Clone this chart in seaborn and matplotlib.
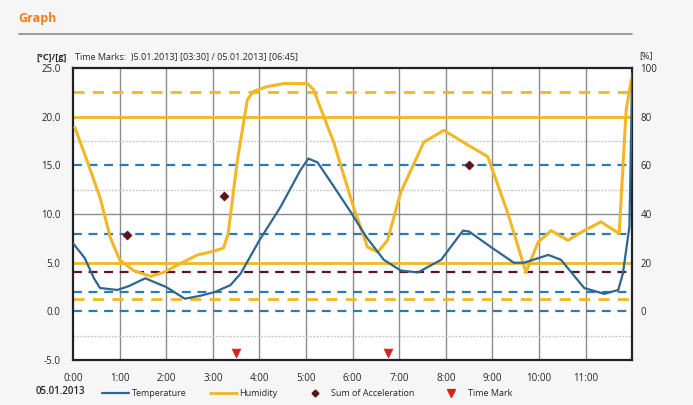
import seaborn as sns
import matplotlib.pyplot as plt
import matplotlib
import pandas as pd
from matplotlib.lines import Line2D

sns.set_style("white")
matplotlib.rcParams["font.family"] = ["Open Sans", "DejaVu Sans"]
matplotlib.rcParams["font.size"] = 7

# temperature [°C] over hours since 0:00
temp_hours = [0.0, 0.25, 0.45, 0.58, 0.95, 1.2, 1.55, 2.0, 2.4, 2.73, 3.05, 3.38, 3.6, 4.0, 4.45,
              4.88, 5.05, 5.25, 5.6, 5.96, 6.3, 6.67, 7.03, 7.4, 7.9, 8.37, 8.5, 8.97, 9.46, 9.68,
              10.2, 10.47, 10.97, 11.4, 11.7, 11.8, 11.94, 12.0]
temp_values = [7.0, 5.5, 3.4, 2.4, 2.2, 2.6, 3.4, 2.5, 1.3, 1.6, 2.0, 2.7, 3.9, 7.3, 10.7,
               14.5, 15.7, 15.3, 12.8, 10.2, 7.6, 5.3, 4.2, 4.0, 5.3, 8.3, 8.2, 6.6, 5.0, 5.0,
               5.8, 5.3, 2.4, 1.8, 2.2, 3.9, 8.7, 24.5]

# humidity [%]
hum_hours = [0.04, 0.3, 0.58, 0.8, 1.0, 1.3, 1.66, 1.94, 2.3, 2.67, 2.95, 3.23, 3.33, 3.53, 3.74,
             3.87, 4.17, 4.52, 5.03, 5.16, 5.6, 6.02, 6.32, 6.54, 6.75, 7.03, 7.53, 7.96, 8.47,
             8.9, 9.33, 9.72, 9.98, 10.26, 10.62, 10.97, 11.33, 11.72, 11.87, 11.98]
hum_values = [75.6, 62.0, 46.8, 30.4, 21.2, 16.8, 14.4, 16.0, 19.6, 23.2, 24.4, 26.0, 32.0, 62.4, 86.8,
              90.4, 92.4, 93.6, 93.6, 91.2, 69.2, 42.8, 26.4, 24.4, 29.2, 48.8, 69.6, 74.4, 68.4,
              63.6, 40.4, 16.0, 28.4, 33.2, 29.2, 33.2, 36.8, 32.0, 82.8, 95.2]

# sum of acceleration [g]
acc_hours = [1.16, 3.23, 8.5]
acc_values = [7.8, 11.9, 15.0]

# time marks (03:30, 06:45)
mark_hours = [3.5, 6.75]
mark_level = [-4.3, -4.3]

# limit lines (left axis units)
temp_limits = [0.0, 2.0, 8.0, 15.0]
hum_warn = [5.0, 90.0]
hum_solid = [20.0, 80.0]
acc_limit = 4.0

x_labels = ["0:00", "1:00", "2:00", "3:00", "4:00", "5:00", "6:00",
            "7:00", "8:00", "9:00", "10:00", "11:00"]

BLUE = "#2f6690"
YELLOW = "#f2b726"
DBLUE = "#2a7ab4"
DRED = "#5c1418"
RED = "#d8231f"

temp_df = pd.DataFrame({"hour": temp_hours, "value": temp_values})
hum_df = pd.DataFrame({"hour": hum_hours, "value": [h / 4 for h in hum_values]})
acc_df = pd.DataFrame({"hour": acc_hours, "value": acc_values})
mark_df = pd.DataFrame({"hour": mark_hours, "value": mark_level})

fig = plt.figure(figsize=(6.93, 4.05), dpi=100, facecolor="#f6f6f6")
ax = fig.add_axes([0.1053, 0.111, 0.807, 0.721])
ax.set_facecolor("white")

# grid
for h in range(1, 12):
    ax.axvline(h, color="#8c8c8c", lw=1.0, zorder=1)
ax.axhline(10, color="#8c8c8c", lw=1.0, zorder=1)
for v in [17.5, 12.5, -2.5]:
    ax.axhline(v, color="#c8c8c8", lw=1.0, ls=(0, (1.5, 1)), zorder=1)

# limit lines
for v in temp_limits:
    ax.axhline(v, color=DBLUE, lw=1.6, ls=(0, (4, 3)), zorder=2)
for v in hum_warn:
    ax.axhline(v / 4, color=YELLOW, lw=2.0, ls=(0, (4, 3)), zorder=2)
for v in hum_solid:
    ax.axhline(v / 4, color=YELLOW, lw=2.0, zorder=2)
ax.axhline(acc_limit, color=DRED, lw=1.6, ls=(0, (4, 3)), zorder=2)

sns.lineplot(data=hum_df, x="hour", y="value", color=YELLOW, lw=2.2, ax=ax, zorder=3)
sns.lineplot(data=temp_df, x="hour", y="value", color=BLUE, lw=1.6, ax=ax, zorder=4)
sns.scatterplot(data=acc_df, x="hour", y="value", color=DRED, marker="D", s=22,
                edgecolor=DRED, ax=ax, zorder=5)
sns.scatterplot(data=mark_df, x="hour", y="value", color=RED, marker="v", s=40,
                edgecolor=RED, ax=ax, zorder=5)

ax.set_xlim(0, 12)
ax.set_ylim(-5, 25)
ax.set_xticks(range(12))
ax.set_xticklabels(x_labels)
ax.set_yticks([-5, 0, 5, 10, 15, 20, 25])
ax.set_yticklabels(["-5.0", "0.0", "5.0", "10.0", "15.0", "20.0", "25.0"])
ax.tick_params(length=0, labelsize=7, pad=9)
ax.set_xlabel("")
ax.set_ylabel("")
for s in ax.spines.values():
    s.set_color("#222222")
    s.set_linewidth(1.6)

ax2 = ax.twinx()
ax2.set_ylim(-20, 100)
ax2.set_yticks([0, 20, 40, 60, 80, 100])
ax2.tick_params(length=0, labelsize=7, pad=6)
for s in ax2.spines.values():
    s.set_visible(False)

# header
fig.text(0.027, 0.955, "Graph", color="#f07d1c", fontsize=9, fontweight="bold", va="center")
fig.add_artist(Line2D([0.027, 0.912], [0.915, 0.915], color="#8a8a8a", lw=1.2))
fig.text(0.053, 0.858, "[°C]/[g]", fontsize=6.5, va="center", fontweight="bold")
fig.text(0.108, 0.858, "Time Marks:  )5.01.2013] [03:30] / 05.01.2013] [06:45]",
         fontsize=6.5, va="center")
fig.text(0.922, 0.862, "[%]", fontsize=6.5, va="center")
fig.text(0.052, 0.034, "05.01.2013", fontsize=7, va="center", fontweight="semibold")

handles = [
    Line2D([], [], color=BLUE, lw=1.6),
    Line2D([], [], color=YELLOW, lw=2.0),
    Line2D([], [], color=DRED, marker="D", ls="", markersize=3.5),
    Line2D([], [], color=RED, marker="v", ls="", markersize=6),
]
fig.legend(handles, ["Temperature", "Humidity", "Sum of Acceleration", "Time Mark"],
           loc="center left", bbox_to_anchor=(0.135, 0.028), ncol=4, frameon=False,
           fontsize=6.5, handlelength=3, columnspacing=2.6, handletextpad=0.3)

fig.savefig("out.png", dpi=100, facecolor=fig.get_facecolor())
